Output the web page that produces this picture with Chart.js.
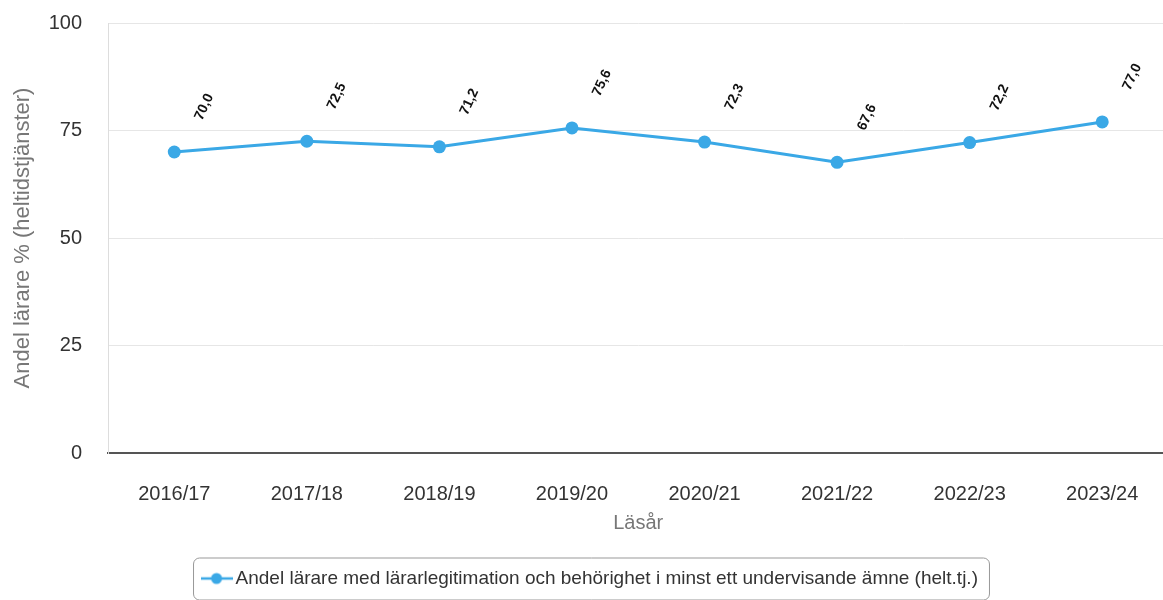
<!DOCTYPE html>
<html>
<head>
<meta charset="utf-8">
<script src="https://cdn.jsdelivr.net/npm/chart.js@4"></script>
<style>
  html, body { margin: 0; padding: 0; background: #fff; overflow: hidden; }
  #wrap { width: 1175px; height: 600px; position: relative; }
</style>
</head>
<body>
<div id="wrap"><canvas id="chart"></canvas></div>
<script>
// Data
const years = ["2016/17", "2017/18", "2018/19", "2019/20", "2020/21", "2021/22", "2022/23", "2023/24"];
const shares = [70.0, 72.5, 71.2, 75.6, 72.3, 67.6, 72.2, 77.0];
const yTicks = [0, 25, 50, 75, 100];
const seriesName = "Andel lärare med lärarlegitimation och behörighet i minst ett undervisande ämne (helt.tj.)";

const blue = "#3aa8e6";
const fontFam = "'Liberation Sans', Arial, sans-serif";

// legend marker: line with a dot in the middle
const marker = document.createElement("canvas");
marker.width = 32;
marker.height = 14;
const mctx = marker.getContext("2d");
mctx.strokeStyle = blue;
mctx.lineWidth = 2.5;
mctx.beginPath();
mctx.moveTo(0, 7);
mctx.lineTo(32, 7);
mctx.stroke();
mctx.fillStyle = blue;
mctx.beginPath();
mctx.arc(16, 7, 5.5, 0, Math.PI * 2);
mctx.fill();

// values above each point, rotated
const valueLabels = {
  id: "valueLabels",
  afterDatasetsDraw(chart) {
    const ctx = chart.ctx;
    const meta = chart.getDatasetMeta(0);
    ctx.save();
    ctx.font = "bold 14px " + fontFam;
    ctx.fillStyle = "#111";
    ctx.textAlign = "center";
    ctx.textBaseline = "middle";
    meta.data.forEach((pt, i) => {
      ctx.save();
      ctx.translate(pt.x + 30, pt.y - 45);
      ctx.rotate(-65 * Math.PI / 180);
      ctx.fillText(shares[i].toFixed(1).replace(".", ","), 0, 0);
      ctx.restore();
    });
    ctx.restore();
  }
};

// rounded frame around the legend
const legendFrame = {
  id: "legendFrame",
  afterDraw(chart) {
    const lg = chart.legend;
    const ctx = chart.ctx;
    const item = lg.legendHitBoxes[0];
    if (!item) return;
    const x = item.left - 14, y = item.top + item.height / 2 - 21;
    const w = item.width + 25, h = 42;
    ctx.save();
    ctx.strokeStyle = "#999";
    ctx.lineWidth = 1;
    ctx.beginPath();
    ctx.roundRect(x + 0.5, y + 0.5, w, h, 6);
    ctx.stroke();
    ctx.restore();
  }
};

const ctx = document.getElementById("chart").getContext("2d");
new Chart(ctx, {
  type: "line",
  data: {
    labels: years,
    datasets: [{
      label: seriesName,
      data: shares,
      borderColor: blue,
      backgroundColor: blue,
      borderWidth: 3,
      pointRadius: 6.5,
      pointHoverRadius: 6.5,
      pointBackgroundColor: blue,
      pointBorderWidth: 0,
      tension: 0,
      pointStyle: "circle"
    }]
  },
  options: {
    responsive: true,
    maintainAspectRatio: false,
    animation: false,
    layout: { padding: { top: 0, left: 10, right: 0, bottom: 2 } },
    plugins: {
      tooltip: { enabled: false },
      legend: {
        position: "bottom",
        labels: {
          usePointStyle: true,
          pointStyle: marker,
          color: "#333",
          font: { size: 19, family: fontFam },
          padding: 13
        }
      }
    },
    scales: {
      x: {
        offset: true,
        afterFit(axis) { axis.height = 103; },
        grid: { display: false, drawTicks: false },
        border: { color: "#555", width: 2 },
        ticks: {
          color: "#333",
          padding: 29,
          font: { size: 20, family: fontFam }
        },
        title: {
          display: true,
          text: "Läsår",
          color: "#777",
          padding: { top: 0, bottom: 21 },
          font: { size: 20, family: fontFam }
        }
      },
      y: {
        min: 0,
        max: 100,
        afterFit(axis) {
          axis.width = 98;
          axis.paddingTop = 23;
          axis.paddingBottom = 12;
        },
        afterBuildTicks(axis) {
          axis.ticks = yTicks.map(v => ({ value: v }));
        },
        grid: { color: "#e6e6e6", drawTicks: false },
        border: { color: "#ddd" },
        ticks: {
          color: "#333",
          padding: 26,
          font: { size: 20, family: fontFam }
        },
        title: {
          display: true,
          text: "Andel lärare % (heltidstjänster)",
          color: "#777",
          padding: { top: 0, bottom: 10 },
          font: { size: 22, family: fontFam }
        }
      }
    }
  },
  plugins: [valueLabels, legendFrame]
});
</script>
</body>
</html>
